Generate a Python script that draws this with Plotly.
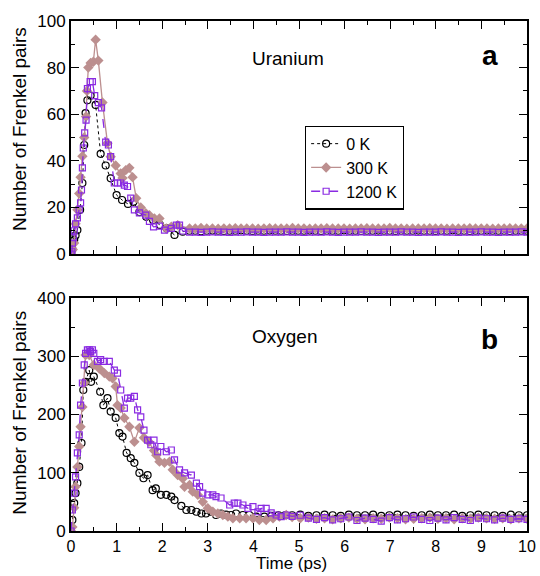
import numpy as np
import plotly.graph_objects as go
from plotly.subplots import make_subplots

# ---------------- Data: Uranium (panel a) ----------------
u0_t_early = [0, 0.03, 0.07, 0.1, 0.14, 0.2, 0.25, 0.29, 0.32, 0.36, 0.43, 0.54, 0.65, 0.76, 0.87, 1.0, 1.12,
              1.25, 1.37, 1.5, 1.65, 1.8, 1.95, 2.1, 2.27, 2.45]
u0_v_early = [0, 2, 6, 8, 10.3, 19, 30.5, 46.8, 60.5, 66, 68, 64, 43, 38, 32.5, 25.3, 23.2,
              21.5, 22.4, 18, 16, 14.6, 12.5, 11, 8.2, 9.6]
u0_v_tail = [10, 10, 9.8, 10, 10.1, 10, 9.9, 10, 10, 10.2, 10, 9.9, 10, 10, 10.1, 10, 10, 9.9, 10, 10,
             10, 10.1, 10, 9.9, 10, 10, 10, 10.2, 10, 10, 9.9, 10, 10, 10.1, 10, 10, 9.9, 10, 10, 10,
             10.1, 10, 10, 9.9, 10, 10, 10.2, 10, 10, 9.9, 10, 10, 10.1, 10, 10, 10, 9.9, 10, 10, 10]

u300_t_early = [0, 0.04, 0.07, 0.1, 0.14, 0.18, 0.21, 0.25, 0.29, 0.33, 0.35, 0.38, 0.43, 0.49, 0.54, 0.6,
                0.69, 0.8, 0.87, 0.98, 1.09, 1.13, 1.2, 1.28, 1.35, 1.43, 1.53, 1.64, 1.72, 1.83, 1.94,
                2.09, 2.2, 2.34]
u300_v_early = [0, 2, 4.7, 13, 19, 26, 33, 42, 50, 59, 70, 80, 82, 82.5, 92, 83,
                65, 47.6, 41.8, 38, 34.6, 32.6, 36, 37, 33, 24, 20, 17.5, 16.7, 15.3, 15.3,
                11, 11.7, 12.4]
u300_v_tail = [11, 11, 11.2, 11, 11, 10.9, 11, 11, 11.1, 11, 11, 11, 10.9, 11, 11.1, 11, 11, 11, 11.2, 11,
               11, 10.9, 11, 11, 11.1, 11, 11, 11, 10.9, 11, 11, 11.1, 11, 11, 11, 11.2, 11, 11, 10.9, 11,
               11, 11, 11.1, 11, 11, 10.9, 11, 11, 11, 11.1, 11, 11, 11, 10.9, 11, 11, 11.1, 11, 11, 11]

u1200_t_early = [0, 0.02, 0.03, 0.05, 0.07, 0.1, 0.14, 0.18, 0.21, 0.23, 0.25, 0.27, 0.3, 0.33, 0.36,
                 0.42, 0.47, 0.52, 0.6, 0.67, 0.76, 0.82, 0.87, 0.95, 1.02, 1.09, 1.17, 1.24, 1.31, 1.39,
                 1.5, 1.64, 1.72, 1.81, 1.94, 2.05, 2.2, 2.31, 2.38, 2.45]
u1200_v_early = [0, 1, 4.7, 7, 10, 13, 15.5, 19, 22, 27.5, 37, 45.5, 52, 57.5, 71,
                 74, 74, 68, 65, 62.7, 48, 46.8, 41.8, 30.5, 30.5, 30.5, 29.6, 29, 24, 19,
                 17.7, 16.7, 14, 11.7, 12, 10.3, 11, 12.4, 12.4, 9.9]
u1200_v_tail = [9.4, 9.4, 9.3, 9.4, 9.5, 9.4, 9.4, 9.3, 9.4, 9.4, 9.5, 9.4, 9.4, 9.3, 9.4, 9.4, 9.4, 9.5,
                9.4, 9.4, 9.3, 9.4, 9.4, 9.4, 9.5, 9.4, 9.3, 9.4, 9.4, 9.4, 9.5, 9.4, 9.4, 9.3, 9.4, 9.4,
                9.4, 9.5, 9.4, 9.4, 9.3, 9.4, 9.4, 9.4, 9.5, 9.4, 9.4, 9.3, 9.4, 9.4, 9.4, 9.5, 9.4, 9.4,
                9.3, 9.4, 9.4, 9.4, 9.5, 9.4]
u_tail_start = 2.6

# ---------------- Data: Oxygen (panel b) ----------------
o0_t_early = [0, 0.03, 0.07, 0.1, 0.14, 0.18, 0.23, 0.27, 0.32, 0.4, 0.44, 0.5, 0.64, 0.71, 0.8, 0.87,
              0.98, 1.06, 1.13, 1.22, 1.31, 1.39, 1.5, 1.59, 1.68, 1.79, 1.86, 1.97, 2.09, 2.2, 2.27,
              2.42, 2.53, 2.64, 2.75, 2.86, 2.96, 3.07, 3.18, 3.29, 3.4, 3.51, 3.62, 3.77, 3.91, 4.06,
              4.24, 4.4, 4.55, 4.7]
o0_v_early = [0, 19, 48, 65, 82, 110, 151, 242, 256, 276, 256, 265, 239, 216, 228, 205,
              194, 168, 162, 134, 125, 117, 99.6, 90.5, 96, 70, 73, 62, 62, 59, 53,
              43, 36, 36, 33, 30, 30, 33, 27.5, 30, 28, 27.5, 30, 27.5, 27.5, 24.6,
              24.6, 26, 27, 27]
o0_v_tail = [27, 28, 26, 27, 28, 27, 26, 28, 27, 27, 28, 26, 27, 28, 27, 26, 27, 28, 27, 27,
             28, 26, 27, 28, 27, 27, 26, 28, 27, 27]

o300_t_early = [0, 0.03, 0.07, 0.1, 0.14, 0.18, 0.21, 0.25, 0.29, 0.32, 0.4, 0.5, 0.62, 0.73, 0.84,
                0.91, 0.98, 1.02, 1.09, 1.17, 1.28, 1.39, 1.5, 1.6, 1.71, 1.82, 1.87, 1.94, 2.05, 2.16,
                2.23, 2.34, 2.45, 2.49, 2.6, 2.67, 2.78, 2.89, 3.0, 3.11, 3.22, 3.33, 3.44, 3.55, 3.7,
                3.84, 3.99, 4.13, 4.28, 4.43, 4.57, 4.72]
o300_v_early = [0, 7, 40, 76, 110, 145, 179, 213, 254, 302, 302, 285, 279, 271, 265,
                262, 248, 216, 211, 194, 179, 153, 177, 160, 153, 138, 130, 119, 117, 119,
                105, 96, 90, 76, 79, 67.5, 62, 50, 39, 33, 30, 27.5, 24.6, 21.8, 21.8,
                21.8, 21.8, 19, 19, 21.8, 24.6, 27.5]
o300_v_tail = [24, 22, 23, 21, 22, 20, 22, 23, 21, 20, 22, 21, 23, 22, 20, 21, 22, 23, 21, 22,
               20, 22, 21, 23, 22, 21, 22, 20, 22, 21]

o1200_t_early = [0, 0.03, 0.07, 0.1, 0.14, 0.18, 0.21, 0.25, 0.29, 0.32, 0.36, 0.4, 0.43, 0.47, 0.5,
                 0.58, 0.65, 0.73, 0.84, 0.95, 1.02, 1.09, 1.17, 1.24, 1.31, 1.39, 1.46, 1.53, 1.6,
                 1.68, 1.75, 1.82, 1.9, 1.97, 2.09, 2.2, 2.27, 2.38, 2.49, 2.64, 2.75, 2.82, 2.89,
                 3.0, 3.11, 3.18, 3.29, 3.48, 3.58, 3.66, 3.77, 3.88, 3.99, 4.1, 4.17, 4.28, 4.39,
                 4.5, 4.61, 4.72]
o1200_v_early = [0, 36, 65, 93, 134, 165, 216, 254, 285, 305, 311, 311, 308, 311, 305,
                 291, 294, 291, 291, 276, 271, 242, 211, 228, 228, 231, 208, 196, 173,
                 156, 148, 156, 136, 145, 136, 139, 122, 105, 99.6, 96, 82, 76, 65,
                 62, 62, 59, 56.6, 44.6, 48, 48, 44.6, 39, 41.7, 33, 39, 39, 31,
                 27.5, 24.6, 27.5]
o1200_v_tail = [25, 27, 22, 20, 23, 19, 21, 24, 18, 22, 20, 17, 23, 19, 21, 24, 20, 18, 22, 19,
                23, 20, 18, 22, 21, 19, 22, 20, 21, 20]
o_tail_start = 4.85

series_names = ["0 K", "300 K", "1200 K"]
x_ticks = [0, 1, 2, 3, 4, 5, 6, 7, 8, 9, 10]


def join(t_early, v_early, v_tail, start):
    t_tail = list(np.linspace(start, 10.0, len(v_tail)))
    return list(t_early) + t_tail, list(v_early) + list(v_tail)


U = [join(u0_t_early, u0_v_early, u0_v_tail, u_tail_start),
     join(u300_t_early, u300_v_early, u300_v_tail, u_tail_start),
     join(u1200_t_early, u1200_v_early, u1200_v_tail, u_tail_start)]
O = [join(o0_t_early, o0_v_early, o0_v_tail, o_tail_start),
     join(o300_t_early, o300_v_early, o300_v_tail, o_tail_start),
     join(o1200_t_early, o1200_v_early, o1200_v_tail, o_tail_start)]

BLACK = "#000000"
ROSY = "#bc8f8f"
PURPLE = "#8a2be2"

styles = [
    dict(line=dict(color=BLACK, width=1, dash="dot"),
         marker=dict(symbol="circle-open", size=7, color=BLACK, line=dict(width=1.2, color=BLACK))),
    dict(line=dict(color=ROSY, width=1.3),
         marker=dict(symbol="diamond", size=8, color=ROSY, line=dict(width=0))),
    dict(line=dict(color=PURPLE, width=1.3, dash="dash"),
         marker=dict(symbol="square-open", size=6, color=PURPLE, line=dict(width=1.2, color=PURPLE))),
]

fig = make_subplots(rows=2, cols=1, vertical_spacing=0.086)
for i, (name, st) in enumerate(zip(series_names, styles)):
    fig.add_trace(go.Scatter(x=U[i][0], y=U[i][1], mode="lines+markers", name=name,
                             showlegend=True, **st), row=1, col=1)
for i, (name, st) in enumerate(zip(series_names, styles)):
    fig.add_trace(go.Scatter(x=O[i][0], y=O[i][1], mode="lines+markers", name=name,
                             showlegend=False, **st), row=2, col=1)

FONT = "Liberation Sans, Arial, sans-serif"
axis_common = dict(showline=True, linecolor="black", linewidth=2, mirror="allticks",
                   ticks="inside", ticklen=8, tickwidth=1.2, tickcolor="black",
                   showgrid=False, zeroline=False, automargin=False)

fig.update_xaxes(range=[0, 10], tickvals=x_ticks, minor=dict(ticks="inside", ticklen=4, dtick=0.5,
                 tickcolor="black", tickwidth=1.2),
                 tickfont=dict(size=16, color="black", family=FONT), **axis_common)
fig.update_xaxes(showticklabels=False, row=1, col=1)
fig.update_yaxes(range=[0, 100], dtick=20, minor=dict(ticks="inside", ticklen=4, dtick=10,
                 tickcolor="black", tickwidth=1.2), row=1, col=1,
                 tickfont=dict(size=17, color="black", family=FONT), **axis_common)
fig.update_yaxes(range=[0, 400], dtick=100, minor=dict(ticks="inside", ticklen=4, dtick=50,
                 tickcolor="black", tickwidth=1.2), row=2, col=1,
                 tickfont=dict(size=17, color="black", family=FONT), **axis_common)

fig.update_layout(
    width=540, height=576,
    margin=dict(l=71, r=13, t=21, b=45),
    paper_bgcolor="white", plot_bgcolor="white",
    font=dict(family=FONT, color="black", size=16),
    legend=dict(x=0.513, y=0.795, xanchor="left", yanchor="top",
                bordercolor="black", borderwidth=1.2, bgcolor="white",
                font=dict(size=16), itemwidth=30, tracegroupgap=0),
)

fig.layout.yaxis.domain = [0.543, 1.0]
fig.layout.yaxis2.domain = [0.0, 0.457]

annos = [
    dict(text="Uranium", x=0.475, y=0.927, size=19, bold=False),
    dict(text="a", x=0.918, y=0.932, size=28, bold=True),
    dict(text="Oxygen", x=0.468, y=0.382, size=19, bold=False),
    dict(text="b", x=0.918, y=0.376, size=28, bold=True),
]
for a in annos:
    fig.add_annotation(text=("<b>%s</b>" % a["text"]) if a["bold"] else a["text"],
                       x=a["x"], y=a["y"], xref="paper", yref="paper",
                       showarrow=False, xanchor="center", yanchor="middle",
                       font=dict(size=a["size"], family=FONT, color="black"))

fig.add_annotation(text="Number of Frenkel pairs", x=-0.113, y=0.789, xref="paper", yref="paper",
                   textangle=-90, showarrow=False, xanchor="center", yanchor="middle",
                   font=dict(size=19, family=FONT, color="black"))
fig.add_annotation(text="Number of Frenkel pairs", x=-0.113, y=0.233, xref="paper", yref="paper",
                   textangle=-90, showarrow=False, xanchor="center", yanchor="middle",
                   font=dict(size=19, family=FONT, color="black"))
fig.add_annotation(text="Time (ps)", x=0.484, y=-0.087, xref="paper", yref="paper",
                   showarrow=False, xanchor="center", yanchor="bottom",
                   font=dict(size=17, family=FONT, color="black"))

fig.write_html("out.html")
